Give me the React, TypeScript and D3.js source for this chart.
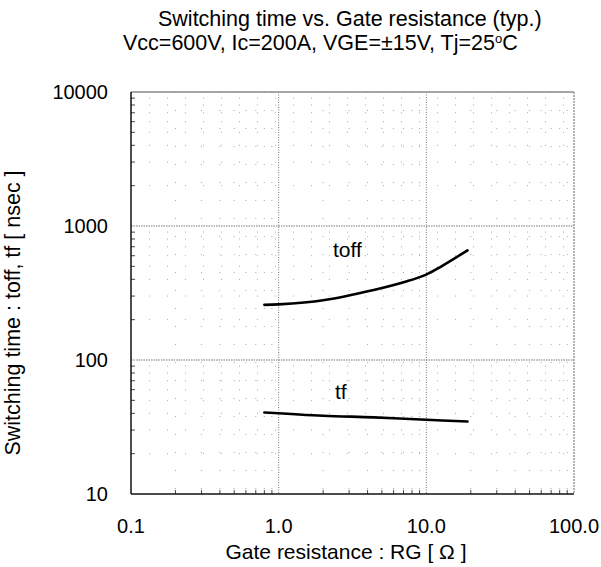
import React from "react";
import * as d3 from "d3";

const xTicks = [0.1, 1, 10, 100];
const xTickLabels = ["0.1", "1.0", "10.0", "100.0"];
const yTicks = [10, 100, 1000, 10000];
const yTickLabels = ["10", "100", "1000", "10000"];

const toffR = [0.8, 1.0, 2.0, 4.4, 7.4, 9.9, 12.5, 19];
const toffT = [258, 260, 279, 333, 387, 432, 496, 658];
const tfR = [0.8, 2.0, 4.4, 10, 19];
const tfT = [40.6, 38.4, 37.3, 35.8, 34.8];

const title1 = "Switching time vs. Gate resistance (typ.)";
const title2a = "Vcc=600V, Ic=200A, VGE=\u00b115V,  Tj=25";
const title2b = "o";
const title2c = "C";
const xTitle = "Gate resistance : RG [ \u03a9 ]";
const yTitle = "Switching time : toff, tf [ nsec ]";

const W = 601;
const H = 567;
const L = 131, R = 574, T = 92, B = 494;
const FONT = "'Liberation Sans', Arial, Helvetica, sans-serif";

export default function App() {
  const x = d3.scaleLog().domain([0.1, 100]).range([L, R]);
  const y = d3.scaleLog().domain([10, 10000]).range([B, T]);

  const minorX: number[] = [];
  [0.1, 1, 10].forEach((d) => { for (let k = 2; k <= 9; k++) minorX.push(d * k); });
  const minorY: number[] = [];
  [10, 100, 1000].forEach((d) => { for (let k = 2; k <= 9; k++) minorY.push(d * k); });

  const line = d3
    .line<[number, number]>()
    .x((d) => x(d[0]))
    .y((d) => y(d[1]))
    .curve(d3.curveCatmullRom.alpha(0.5));

  const toffPts = toffR.map((r, i) => [r, toffT[i]] as [number, number]);
  const tfPts = tfR.map((r, i) => [r, tfT[i]] as [number, number]);

  return (
    <svg
      width={W}
      height={H}
      style={{ position: "absolute", left: 0, top: 0, background: "#fff" }}
      fontFamily={FONT}
    >
      <rect x={0} y={0} width={W} height={H} fill="#fff" />
      {/* minor grid */}
      {minorX.map((v) => (
        <line key={"mx" + v} x1={x(v)} x2={x(v)} y1={T} y2={B} stroke="#aaa" strokeWidth={1} strokeDasharray="1,17" />
      ))}
      {minorY.map((v) => (
        <line key={"my" + v} x1={L} x2={R} y1={y(v)} y2={y(v)} stroke="#aaa" strokeWidth={1} strokeDasharray="1,17" />
      ))}
      {/* major grid */}
      {xTicks.slice(1, -1).map((v) => (
        <line key={"gx" + v} x1={x(v)} x2={x(v)} y1={T} y2={B} stroke="#777" strokeWidth={1} strokeDasharray="1,1.5" />
      ))}
      {yTicks.slice(1, -1).map((v) => (
        <line key={"gy" + v} x1={L} x2={R} y1={y(v)} y2={y(v)} stroke="#777" strokeWidth={1} strokeDasharray="1.5,1" />
      ))}
      {/* minor ticks */}
      {minorY.map((v) => (
        <line key={"ty" + v} x1={L} x2={L + 4} y1={y(v)} y2={y(v)} stroke="#444" strokeWidth={1} />
      ))}
      {minorX.map((v) => (
        <line key={"tx" + v} x1={x(v)} x2={x(v)} y1={B} y2={B - 4} stroke="#444" strokeWidth={1} />
      ))}
      {/* frame */}
      <line x1={L} x2={R} y1={T} y2={T} stroke="#888" strokeWidth={1.5} />
      <line x1={R} x2={R} y1={T} y2={B} stroke="#999" strokeWidth={1.5} strokeDasharray="2,1" />
      <line x1={L} x2={L} y1={T} y2={B} stroke="#111" strokeWidth={1.5} />
      <line x1={L} x2={R} y1={B} y2={B} stroke="#111" strokeWidth={1.5} />

      {/* curves */}
      <path d={line(toffPts) || ""} fill="none" stroke="#000" strokeWidth={2.6} strokeLinecap="round" />
      <path d={line(tfPts) || ""} fill="none" stroke="#000" strokeWidth={2.6} strokeLinecap="round" />
      <text x={333} y={257} fontSize={21} fill="#000">toff</text>
      <text x={335} y={399} fontSize={21} fill="#000">tf</text>

      {/* tick labels */}
      {yTicks.map((v, i) => (
        <text key={"yl" + v} x={108} y={y(v)} dy="0.35em" textAnchor="end" fontSize={20} fill="#000">
          {yTickLabels[i]}
        </text>
      ))}
      {xTicks.map((v, i) => (
        <text key={"xl" + v} x={x(v)} y={533} textAnchor="middle" fontSize={20} fill="#000">
          {xTickLabels[i]}
        </text>
      ))}

      {/* titles */}
      <text x={158} y={26} fontSize={21.5} fill="#000">{title1}</text>
      <text x={123} y={50} fontSize={21.5} fill="#000">
        {title2a}
        <tspan fontSize={13} dy={-7}>{title2b}</tspan>
        <tspan dy={7}>{title2c}</tspan>
      </text>
      <text x={346} y={559} textAnchor="middle" fontSize={21} fill="#000">{xTitle}</text>
      <text transform="translate(19.5,313) rotate(-90)" textAnchor="middle" fontSize={21.5} fill="#000">{yTitle}</text>
    </svg>
  );
}
